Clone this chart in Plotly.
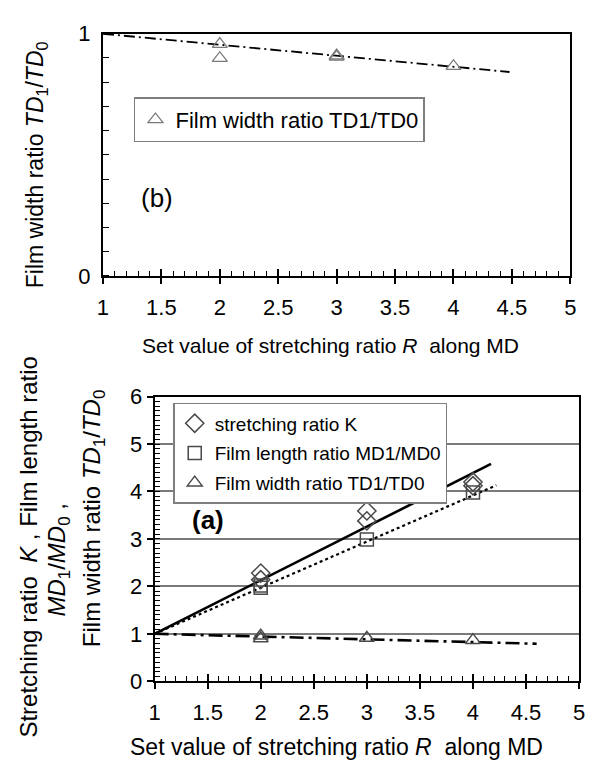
import plotly.graph_objects as go

# ---------------- data ----------------
# panel (b): film width ratio TD1/TD0
b_R = [2, 2, 3, 3, 4]
b_TD = [0.957, 0.899, 0.91, 0.905, 0.866]
b_fit_R = [1, 4.48]
b_fit_TD = [1, 0.842]

# panel (a)
a_R_K = [2, 2, 3, 3, 4, 4]
a_K = [2.28, 2.14, 3.59, 3.38, 4.2, 4.12]
a_R_MD = [2, 2, 3, 4]
a_MD = [1.97, 2.02, 2.99, 3.98]
a_R_TD = [2, 2, 3, 4]
a_TD = [0.957, 0.899, 0.91, 0.866]
fitK_R = [1, 4.17]
fitK = [1, 4.58]
fitMD_R = [1, 4.22]
fitMD = [1, 4.13]
fitTD_R = [1, 4.6]
fitTD = [1, 0.79]

x_ticks = [1, 1.5, 2, 2.5, 3, 3.5, 4, 4.5, 5]
x_ticktext = ["1", "1.5", "2", "2.5", "3", "3.5", "4", "4.5", "5"]

W, H = 590, 770
FONT = "Liberation Sans, Arial, sans-serif"

def px_x(p):
    return p / W

def px_y(p):
    return 1 - p / H

fig = go.Figure()

gray_m = "#7a7a7a"
dark_m = "#4a4a4a"

# ---- panel (b) ----
fig.add_trace(go.Scatter(x=b_fit_R, y=b_fit_TD, mode="lines",
                         line=dict(color="black", width=1.8, dash="11px,4px,2px,4px"),
                         showlegend=False, xaxis="x", yaxis="y", hoverinfo="skip"))
fig.add_trace(go.Scatter(x=b_R, y=b_TD, mode="markers", name="Film width ratio TD1/TD0",
                         marker=dict(symbol="triangle-up-open", size=13, color=gray_m,
                                     line=dict(width=1.3, color=gray_m)),
                         xaxis="x", yaxis="y", legend="legend"))

# ---- panel (a) ----
fig.add_trace(go.Scatter(x=fitK_R, y=fitK, mode="lines", line=dict(color="black", width=2.6),
                         showlegend=False, xaxis="x2", yaxis="y2", hoverinfo="skip"))
fig.add_trace(go.Scatter(x=fitMD_R, y=fitMD, mode="lines", line=dict(color="black", width=2.2, dash="dot"),
                         showlegend=False, xaxis="x2", yaxis="y2", hoverinfo="skip"))
fig.add_trace(go.Scatter(x=fitTD_R, y=fitTD, mode="lines",
                         line=dict(color="black", width=2.6, dash="14px,5px,3px,5px"),
                         showlegend=False, xaxis="x2", yaxis="y2", hoverinfo="skip"))
fig.add_trace(go.Scatter(x=a_R_K, y=a_K, mode="markers", name="stretching ratio K",
                         marker=dict(symbol="diamond-open", size=14, color=dark_m,
                                     line=dict(width=1.5, color=dark_m)),
                         xaxis="x2", yaxis="y2", legend="legend2", legendgroup="k"))
fig.add_trace(go.Scatter(x=a_R_MD, y=a_MD, mode="markers", name="Film length ratio MD1/MD0",
                         marker=dict(symbol="square-open", size=13, color=dark_m,
                                     line=dict(width=1.5, color=dark_m)),
                         xaxis="x2", yaxis="y2", legend="legend2", legendgroup="md"))
fig.add_trace(go.Scatter(x=a_R_TD, y=a_TD, mode="markers", name="Film width ratio TD1/TD0",
                         marker=dict(symbol="triangle-up-open", size=13, color=dark_m,
                                     line=dict(width=1.5, color=dark_m)),
                         xaxis="x2", yaxis="y2", legend="legend2", legendgroup="td"))

# invisible helper traces for the inner halves of the crossing major x ticks
fig.add_trace(go.Scatter(x=[None], y=[None], xaxis="x3", yaxis="y", showlegend=False, hoverinfo="skip"))
fig.add_trace(go.Scatter(x=[None], y=[None], xaxis="x4", yaxis="y2", showlegend=False, hoverinfo="skip"))

top_dom_x = [px_x(99), px_x(576)]
top_dom_y = [px_y(272.7), px_y(22.5)]
bot_dom_x = [px_x(151.7), px_x(585)]
bot_dom_y = [px_y(691.7), px_y(397.5)]

tickfont_top = dict(family=FONT, size=22, color="black")
tickfont_bot = dict(family=FONT, size=22, color="black")

common_x = dict(range=[1, 5], tickmode="array", tickvals=x_ticks, ticktext=x_ticktext,
                showline=True, linecolor="black", linewidth=2, mirror=True,
                ticks="outside", ticklen=6, tickwidth=1.5, tickcolor="black",
                showgrid=False, zeroline=False, fixedrange=True,
                minor=dict(ticks="inside", dtick=0.1, ticklen=5, tickwidth=1.3, tickcolor="black", showgrid=False))

fig.update_layout(
    width=W, height=H,
    margin=dict(l=0, r=0, t=0, b=0),
    paper_bgcolor="white", plot_bgcolor="white",
    font=dict(family=FONT, color="black"),
    xaxis=dict(domain=top_dom_x, anchor="y", tickfont=tickfont_top, ticklabelstandoff=5, **common_x),
    yaxis=dict(domain=top_dom_y, anchor="x", range=[0, 1], tickmode="array", tickvals=[0, 1],
               ticktext=["0", "1"], tickfont=tickfont_top, ticklabelstandoff=6,
               showline=True, linecolor="black", linewidth=2, mirror=True,
               ticks="", showgrid=False, zeroline=False, fixedrange=True,
               minor=dict(ticks="inside", dtick=0.1, ticklen=6, tickwidth=1.3, tickcolor="black", showgrid=False)),
    xaxis3=dict(overlaying="x", anchor="y", range=[1, 5], tickmode="array", tickvals=x_ticks,
                showticklabels=False, ticks="inside", ticklen=7, tickwidth=1.5, tickcolor="black",
                showline=False, showgrid=False, zeroline=False, fixedrange=True),
    xaxis2=dict(domain=bot_dom_x, anchor="y2", tickfont=tickfont_bot, ticklabelstandoff=4, **common_x),
    yaxis2=dict(domain=bot_dom_y, anchor="x2", range=[0, 6], tickmode="array",
                tickvals=[0, 1, 2, 3, 4, 5, 6], ticktext=["0", "1", "2", "3", "4", "5", "6"],
                tickfont=tickfont_bot,
                showline=True, linecolor="black", linewidth=2, mirror=True,
                ticks="outside", ticklen=6, tickwidth=1.5, tickcolor="black",
                showgrid=True, gridcolor="#7a7a7a", gridwidth=1.5, zeroline=False, fixedrange=True,
                minor=dict(ticks="inside", dtick=0.1, ticklen=5, tickwidth=1.2, tickcolor="black", showgrid=False)),
    xaxis4=dict(overlaying="x2", anchor="y2", range=[1, 5], tickmode="array", tickvals=x_ticks,
                showticklabels=False, ticks="inside", ticklen=7, tickwidth=1.5, tickcolor="black",
                showline=False, showgrid=False, zeroline=False, fixedrange=True),
    legend=dict(x=px_x(130.6), y=px_y(88), xanchor="left", yanchor="top",
                bgcolor="white", bordercolor="#7f7f7f", borderwidth=1.5,
                font=dict(family=FONT, size=22, color="black")),
    legend2=dict(x=px_x(170.7), y=px_y(404), xanchor="left", yanchor="top",
                 bgcolor="white", bordercolor="#7f7f7f", borderwidth=1.5,
                 tracegroupgap=2,
                 font=dict(family=FONT, size=19, color="black")),
    showlegend=True,
)

ann = [
    dict(text="(b)", x=px_x(154), y=px_y(192), font=dict(size=26)),
    dict(text="<b>(a)</b>", x=px_x(206), y=px_y(525), font=dict(size=26)),
    dict(text="Set value of stretching ratio <i>R</i>  along MD", x=px_x(331), y=px_y(345), font=dict(size=21)),
    dict(text="Set value of stretching ratio <i>R</i>  along MD", x=px_x(337), y=px_y(760), font=dict(size=23)),
    dict(text="Film width ratio <i>TD</i><sub>1</sub>/<i>TD</i><sub>0</sub>", x=px_x(32), y=px_y(158),
         font=dict(size=23), textangle=-90),
    dict(text="Stretching ratio  <i>K</i> , Film length ratio", x=px_x(22), y=px_y(553),
         font=dict(size=24), textangle=-90),
    dict(text="<i>MD</i><sub>1</sub>/<i>MD</i><sub>0</sub> ,", x=px_x(54), y=px_y(566),
         font=dict(size=24), textangle=-90),
    dict(text="Film width ratio <i>TD</i><sub>1</sub>/<i>TD</i><sub>0</sub>", x=px_x(90), y=px_y(524),
         font=dict(size=24), textangle=-90),
]
for a in ann:
    a.update(xref="paper", yref="paper", showarrow=False, xanchor="center", yanchor="middle")
    a["font"].update(family=FONT, color="black")
    fig.add_annotation(**a)

fig.write_html("out.html")
